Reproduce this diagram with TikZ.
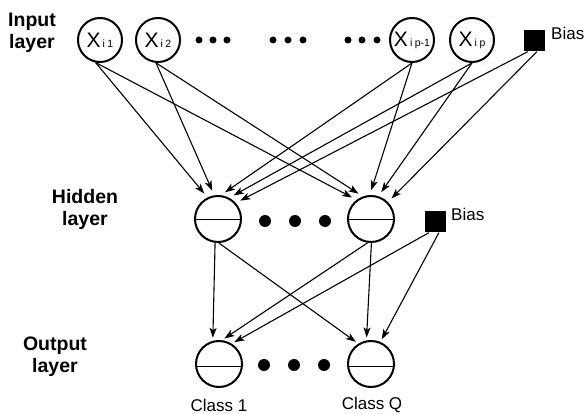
\documentclass[tikz,border=0pt]{standalone}
\usepackage{fontspec}
\setmainfont{Liberation Sans}
\usetikzlibrary{arrows.meta,calc}
\newcommand\subidx[1]{{\fontsize{10.5}{10.5}\selectfont #1}}
\begin{document}
\begin{tikzpicture}[x=1pt,y=-1pt,
  inneuron/.style={circle,draw,line width=2pt,minimum size=44pt,inner sep=0pt},
  unit/.style={circle,draw,line width=2pt,minimum size=46pt,inner sep=0pt},
  biasbox/.style={fill=black,minimum size=21pt,inner sep=0pt},
  dotsm/.style={circle,fill=black,minimum size=7pt,inner sep=0pt},
  dotlg/.style={circle,fill=black,minimum size=12pt,inner sep=0pt},
  xtext/.style={font=\fontsize{21}{21}\selectfont,inner sep=0pt},
  layerlabel/.style={font=\fontsize{19.5}{22}\selectfont\bfseries,align=center},
  smalltext/.style={font=\fontsize{17}{17}\selectfont,inner sep=0pt},
  conn/.style={line width=1.1pt,-{Stealth[length=10pt,width=7pt,inset=2.5pt]}},
  tohid/.style={conn,shorten >=5pt},
  toout/.style={conn,shorten >=3pt},
  ]
\useasboundingbox (0,0) rectangle (587,414);

% layer labels
\node[layerlabel] (inlab)  at (32,33)  {Input\\layer};
\node[layerlabel] (hidlab) at (85,209) {Hidden\\layer};
\node[layerlabel] (outlab) at (55,357) {Output\\layer};

% input layer
\node[inneuron] (x1)  at (100,40) {};
\node[inneuron] (x2)  at (158,40) {};
\node[inneuron] (xp1) at (412,40) {};
\node[inneuron] (xp)  at (472,40) {};
\node[xtext] (x1t)  at (x1)  {X\hspace{2pt}\subidx{i\hspace{2.5pt}1}};
\node[xtext] (x2t)  at (x2)  {X\hspace{2pt}\subidx{i\hspace{2.5pt}2}};
\node[xtext] (xp1t) at (xp1) {X\hspace{2pt}\subidx{i\hspace{2.5pt}p-1}};
\node[xtext] (xpt)  at (xp)  {X\hspace{2pt}\subidx{i\hspace{2.5pt}p}};
\node[biasbox] (b1) at (534,41) {};
\node[smalltext,anchor=west] (b1t) at (551,33) {Bias};

\foreach \i/\x in {1/199,2/213,3/227,4/273,5/288,6/303,7/348,8/362,9/377}
  \node[dotsm] (id\i) at (\x,40) {};

% hidden layer
\node[unit] (h1) at (218,219) {};
\node[unit] (h2) at (371,219) {};
\draw[line width=1.6pt] (h1.181) -- (h1.359);
\draw[line width=1.6pt] (h2.181) -- (h2.359);
\foreach \i/\x in {1/265,2/295,3/325}
  \node[dotlg] (hd\i) at (\x,221) {};
\node[biasbox] (b2) at (435,222) {};
\node[smalltext,anchor=west] (b2t) at (451,214) {Bias};

% output layer
\node[unit] (o1) at (219,364) {};
\node[unit] (o2) at (371,364) {};
\draw[line width=1.6pt] (o1.186) -- (o1.354);
\draw[line width=1.6pt] (o2.186) -- (o2.354);
\foreach \i/\x in {1/264,2/294,3/324}
  \node[dotlg] (od\i) at (\x,365) {};
\node[smalltext] (c1t) at (219,405) {Class 1};
\node[smalltext] (cqt) at (372,405) {Class Q};

% input -> hidden
\draw[tohid] (x1.259)  -- (h1.116);
\draw[tohid] (x2.265)  -- (h1.99);
\draw[tohid] (xp1.270) -- (h1.83);
\draw[tohid] (xp.270)  -- (h1.62);
\draw[tohid] (b1.240)  -- (h1.42);
\draw[tohid] (x1.259)  -- (h2.127);
\draw[tohid] (x2.265)  -- (h2.110);
\draw[tohid] (xp1.270) -- (h2.93);
\draw[tohid] (xp.270)  -- (h2.72);
\draw[tohid] (b1.285)  -- (h2.45);

% hidden -> output
\draw[toout] (h1.263) -- (o1.105);
\draw[toout] (h2.262) -- (o1.83);
\draw[toout] (b2.240) -- (o1.58);
\draw[toout] (h1.272) -- (o2.122);
\draw[toout] (h2.271) -- (o2.101);
\draw[toout] (b2.290) -- (o2.67);
\end{tikzpicture}
\end{document}
